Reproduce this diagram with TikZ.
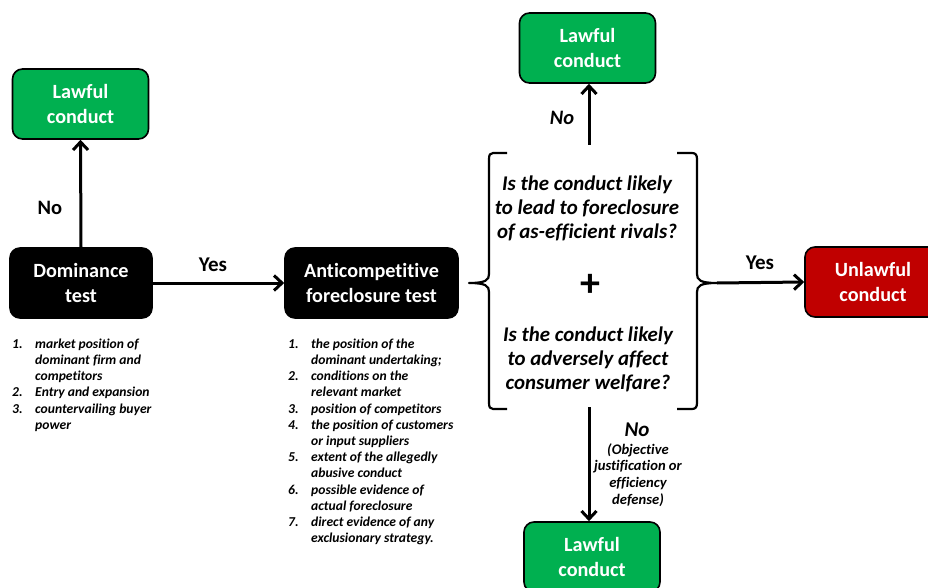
\documentclass[tikz,border=0pt]{standalone}
\usepackage{fontspec}
\setmainfont{Carlito}[Ligatures=NoCommon]
\usetikzlibrary{arrows.meta,calc}
\definecolor{okgreen}{HTML}{00B050}
\definecolor{badred}{HTML}{C00000}
\tikzset{
  box/.style={draw=black, line width=1.6pt, rounded corners=10pt, minimum width=136pt,
    minimum height=70pt, align=center, text=white,
    font=\fontsize{20.2}{24.5}\selectfont\bfseries},
  lawful/.style={box, fill=okgreen},
  unlawful/.style={box, fill=badred},
  testbox/.style={box, fill=black, minimum width=142pt},
  conn/.style={line width=3pt, -{Straight Barb[length=8pt,width=15pt,line width=3pt]}},
  brace/.style={line width=2.2pt, line join=round},
  lbl/.style={font=\fontsize{21}{24}\selectfont\bfseries},
  question/.style={align=center, font=\fontsize{20.9}{24}\selectfont\bfseries\itshape},
  factors/.style={align=left, anchor=north west, inner sep=0pt,
    font=\fontsize{13.6}{16.2}\selectfont\bfseries\itshape},
}
\newcommand{\itm}[2]{\makebox[23pt][l]{#1}#2}
\newcommand{\cnt}[1]{\hspace*{23pt}#1}
\begin{document}
\begin{tikzpicture}[x=1pt,y=-1pt]
\useasboundingbox (0,0) rectangle (928,588);
\clip (0,0) rectangle (928,588);

% boxes
\node[lawful]   (lawA) at (80.5,104) {Lawful\\conduct};
\node[testbox]  (dom)  at (81,283)   {Dominance\\test};
\node[testbox, minimum width=173pt] (afc) at (371.5,283) {Anticompetitive\\foreclosure test};
\node[lawful]   (lawB) at (587.5,48) {Lawful\\conduct};
\node[lawful]   (lawC) at (592,557)  {Lawful\\conduct};
\node[unlawful] (unl)  at (873,282)  {Unlawful\\conduct};

% the two-part question between brackets
\coordinate (lb) at (469,283);
\coordinate (rb) at (717,283);
\coordinate (bt) at (589,145);
\coordinate (bb) at (589,407);
\draw[brace] (507,153) -- (493,153) .. controls (490,153) and (489,155) .. (489,159)
  -- (489,274) .. controls (489,280) and (486,283) .. (lb)
  .. controls (486,283) and (489,286) .. (489,292) -- (489,403)
  .. controls (489,407) and (490,409) .. (493,409) -- (507,409);
\draw[brace] (677,153) -- (692,153) .. controls (695.5,153) and (697,155) .. (697,159)
  -- (697,274) .. controls (697,280) and (700,283) .. (rb)
  .. controls (700,283) and (697,286) .. (697,292) -- (697,403)
  .. controls (697,407) and (695.5,409) .. (692,409) -- (677,409);
\node[question] (q1) at (587,208) {Is the conduct likely\\to lead to foreclosure\\of as-efficient rivals?};
\node[font=\fontsize{40}{40}\selectfont\bfseries] (plus) at (590,285) {+};
\node[question] (q2) at (588,359) {Is the conduct likely\\to adversely affect\\consumer welfare?};

% connectors
\draw[conn] (dom.north) -- (lawA.south);
\draw[conn] (dom.east) -- (afc.west);
\draw[conn] (rb) -- (unl.west);
\draw[conn] (bt) -- (bt |- lawB.south);
\draw[conn] (bb) -- (bb |- lawC.north);

% connector labels
\node[lbl, font=\fontsize{20.5}{24}\selectfont\bfseries] (noA)  at (50,208)  {No};
\node[lbl] (yesA) at (213,265) {Yes};
\node[lbl] (yesB) at (760,263) {Yes};
\node[lbl, font=\fontsize{20.5}{24}\selectfont\bfseries\itshape] (noB) at (562,118) {No};
\node[lbl, font=\fontsize{21}{24}\selectfont\bfseries\itshape] (noC) at (637,430) {No};
\node[align=center, font=\fontsize{14.6}{16.7}\selectfont\bfseries\itshape] (why) at (638,475)
  {(Objective\\justification or\\efficiency\\defense)};

% factors listed under each test
\node[factors] (domf) at (12,338.5) {%
  \itm{1.}{market position of}\\
  \cnt{dominant firm and}\\
  \cnt{competitors}\\
  \itm{2.}{Entry and expansion}\\
  \itm{3.}{countervailing buyer}\\
  \cnt{power}};
\node[factors] (afcf) at (288,338.5) {%
  \itm{1.}{the position of the}\\
  \cnt{dominant undertaking;}\\
  \itm{2.}{conditions on the}\\
  \cnt{relevant market}\\
  \itm{3.}{position of competitors}\\
  \itm{4.}{the position of customers}\\
  \cnt{or input suppliers}\\
  \itm{5.}{extent of the allegedly}\\
  \cnt{abusive conduct}\\
  \itm{6.}{possible evidence of}\\
  \cnt{actual foreclosure}\\
  \itm{7.}{direct evidence of any}\\
  \cnt{exclusionary strategy.}};
\end{tikzpicture}
\end{document}
